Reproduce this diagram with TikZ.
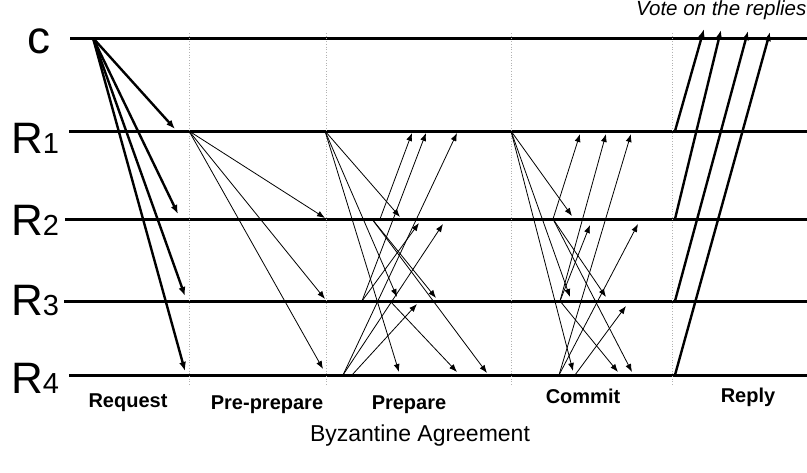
\documentclass[tikz,border=0pt]{standalone}
\usepackage{fontspec}
\setmainfont{Liberation Sans}
\usetikzlibrary{arrows.meta}
\begin{document}
\begin{tikzpicture}[x=1pt,y=-1pt,
  lane/.style={line width=3pt},
  phaseline/.style={gray!60, dotted, line width=0.7pt},
  thinmsg/.style={line width=0.8pt, -{Latex[length=8pt,width=6pt]}},
  thickmsg/.style={line width=2.4pt, -{Latex[length=9pt,width=7pt]}},
  procname/.style={anchor=base west, inner sep=0pt},
  phasename/.style={anchor=base, inner sep=0pt, font=\bfseries\fontsize{20}{20}\selectfont},
]
\useasboundingbox (0,0) rectangle (807,472);
\fill[white] (0,0) rectangle (807,472);

% process time lines
\coordinate (cA) at (70,38);  \coordinate (cB) at (807,38);
\coordinate (r1A) at (69,131); \coordinate (r1B) at (807,131);
\coordinate (r2A) at (65,219); \coordinate (r2B) at (807,219);
\coordinate (r3A) at (64,301); \coordinate (r3B) at (807,301);
\coordinate (r4A) at (69,375); \coordinate (r4B) at (807,375);
\foreach \p in {c,r1,r2,r3,r4} \draw[lane] (\p A) -- (\p B);

% phase separators
\foreach \i/\x in {1/189,2/326,3/511,4/672} {
  \coordinate (sep\i a) at (\x,33);
  \coordinate (sep\i b) at (\x,385);
  \draw[phaseline] (sep\i a) -- (sep\i b);
}

% process names
\node[procname, font=\fontsize{46}{46}\selectfont] (lc) at (27,53) {c};
\foreach \i/\y in {1/153,2/235,3/315,4/393}
  \node[procname] (l\i) at (11,\y) {{\fontsize{44}{44}\selectfont R}{\fontsize{29}{29}\selectfont \i}};

% request: client to all replicas
\coordinate (req) at (93,38);
\foreach \i/\x/\y in {1/175/129,2/178/214,3/185/296,4/185/371} {
  \coordinate (reqt\i) at (\x,\y);
  \draw[thickmsg] (req) -- (reqt\i);
}

% pre-prepare: primary to backups
\coordinate (pp) at (189,131);
\foreach \i/\x/\y in {2/325/218,3/325/299,4/323/369} {
  \coordinate (ppt\i) at (\x,\y);
  \draw[thinmsg] (pp) -- (ppt\i);
}

% prepare and commit: all to all
\foreach \n/\sx/\sy/\tx/\ty in {
  a/325/131/400/217, b/325/131/397/297, c/325/131/399/372,
  d/380/219/412/133, e/372/219/436/298, f/372/219/487/373,
  g/362/301/426/133, h/362/301/419/223, i/390/301/457/372,
  j/343/375/457/133, k/343/375/443/224, l/352/375/417/304,
  m/511/131/572/216, n/511/131/570/297, o/511/131/573/371,
  p/553/219/580/134, q/553/219/606/297, r/553/219/632/372,
  s/560/301/606/134, t/560/301/590/225, u/560/301/618/372,
  v/559/375/631/134, w/559/375/638/224, x/575/375/626/306} {
  \coordinate (ms\n) at (\sx,\sy);
  \coordinate (mt\n) at (\tx,\ty);
  \draw[thinmsg] (ms\n) -- (mt\n);
}

% reply: replicas to client
\foreach \i/\sy/\tx/\ty in {1/131/704/29,2/219/721/30,3/301/748/31,4/375/770/32} {
  \coordinate (rps\i) at (675,\sy);
  \coordinate (rpt\i) at (\tx,\ty);
  \draw[thickmsg] (rps\i) -- (rpt\i);
}

\node[anchor=base west, inner sep=0pt, font=\itshape\fontsize{20.5}{20.5}\selectfont] (vote) at (636,15) {Vote on the replies};

% phase names
\node[phasename] (ph1) at (128,407) {Request};
\node[phasename] (ph2) at (267,409) {Pre-prepare};
\node[phasename] (ph3) at (409,409) {Prepare};
\node[phasename] (ph4) at (583,403) {Commit};
\node[phasename] (ph5) at (748,402) {Reply};

\node[anchor=base, inner sep=0pt, font=\fontsize{23}{23}\selectfont] (title) at (420,441) {Byzantine Agreement};
\end{tikzpicture}
\end{document}
